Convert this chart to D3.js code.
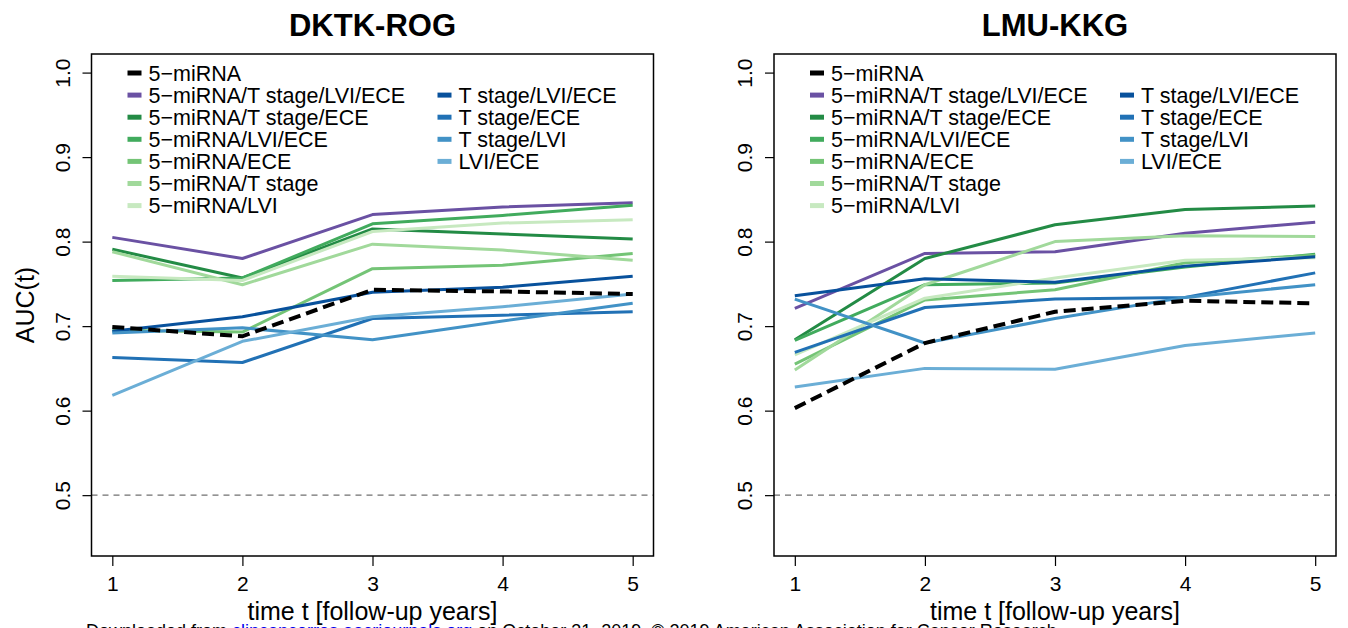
<!DOCTYPE html>
<html>
<head>
<meta charset="utf-8">
<script src="https://cdn.jsdelivr.net/npm/d3@7"></script>
<style>
  body { margin: 0; background: #fff; }
  svg { display: block; font-family: "Liberation Sans", Arial, Helvetica, sans-serif; }
</style>
</head>
<body>
<svg id="chart" width="1348" height="628"></svg>
<script>
// Data
const years = [1, 2, 3, 4, 5];
const yTicks = [0.5, 0.6, 0.7, 0.8, 0.9, 1.0];

const seriesNames = [
    '5\u2212miRNA',
    '5\u2212miRNA/T stage/LVI/ECE',
    '5\u2212miRNA/T stage/ECE',
    '5\u2212miRNA/LVI/ECE',
    '5\u2212miRNA/ECE',
    '5\u2212miRNA/T stage',
    '5\u2212miRNA/LVI',
    'T stage/LVI/ECE',
    'T stage/ECE',
    'T stage/LVI',
    'LVI/ECE'
];

const seriesColors = ['#000000', '#6a51a3', '#238b45', '#41ab5d', '#74c476', '#a1d99b',
    '#c7e9c0', '#08519c', '#2171b5', '#4292c6', '#6baed6'];

// AUC(t) per series, same order as seriesNames
const dktkAuc = [
    [0.699, 0.688, 0.743, 0.741, 0.738],
    [0.805, 0.780, 0.832, 0.841, 0.846],
    [0.791, 0.757, 0.815, 0.809, 0.803],
    [0.754, 0.757, 0.821, 0.831, 0.843],
    [0.695, 0.693, 0.768, 0.772, 0.786],
    [0.788, 0.749, 0.797, 0.790, 0.778],
    [0.759, 0.754, 0.812, 0.822, 0.826],
    [0.694, 0.711, 0.740, 0.746, 0.759],
    [0.663, 0.657, 0.709, 0.713, 0.717],
    [0.692, 0.698, 0.684, 0.706, 0.727],
    [0.618, 0.682, 0.711, 0.723, 0.738]
];

const lmuAuc = [
    [0.603, 0.680, 0.717, 0.730, 0.727],
    [0.721, 0.786, 0.788, 0.810, 0.823],
    [0.684, 0.780, 0.820, 0.838, 0.842],
    [0.683, 0.749, 0.751, 0.770, 0.785],
    [0.655, 0.731, 0.743, 0.775, 0.784],
    [0.648, 0.749, 0.800, 0.807, 0.806],
    [0.666, 0.733, 0.757, 0.778, 0.781],
    [0.736, 0.756, 0.752, 0.771, 0.782],
    [0.669, 0.722, 0.732, 0.734, 0.763],
    [0.732, 0.680, 0.709, 0.734, 0.749],
    [0.628, 0.650, 0.649, 0.677, 0.692]
];

const panelTitles = ['DKTK-ROG', 'LMU-KKG'];

const svg = d3.select('#chart');
const plotTop = 54, plotBottom = 556;

const panels = [
    { title: panelTitles[0], left: 91.5, right: 653.5, data: dktkAuc, yLabel: true },
    { title: panelTitles[1], left: 774, right: 1336, data: lmuAuc, yLabel: false }
];

// legend layout: column 1 holds the 5-miRNA models, column 2 the clinical ones
const legendCol = [0, 0, 0, 0, 0, 0, 0, 1, 1, 1, 1];
const legendRow = [0, 1, 2, 3, 4, 5, 6, 1, 2, 3, 4];

panels.forEach(p => {
    const x = d3.scaleLinear().domain([0.84, 5.16]).range([p.left, p.right]);
    const y = d3.scaleLinear().domain([0.428, 1.022]).range([plotBottom, plotTop]);
    const g = svg.append('g');

    // reference line at 0.5
    g.append('line')
        .attr('x1', p.left).attr('x2', p.right)
        .attr('y1', y(0.5)).attr('y2', y(0.5))
        .attr('stroke', '#707070')
        .attr('stroke-width', 1.4)
        .attr('stroke-dasharray', '6,5');

    // curves, black reference model on top
    const line = d3.line()
        .x((d, i) => x(years[i]))
        .y(d => y(d));

    for (let s = 1; s < p.data.length; s++) {
        g.append('path')
            .datum(p.data[s])
            .attr('fill', 'none')
            .attr('stroke', seriesColors[s])
            .attr('stroke-width', 3)
            .attr('stroke-linejoin', 'round')
            .attr('d', line);
    }
    g.append('path')
        .datum(p.data[0])
        .attr('fill', 'none')
        .attr('stroke', seriesColors[0])
        .attr('stroke-width', 4)
        .attr('stroke-dasharray', '12,6')
        .attr('d', line);

    // box
    g.append('rect')
        .attr('x', p.left).attr('y', plotTop)
        .attr('width', p.right - p.left).attr('height', plotBottom - plotTop)
        .attr('fill', 'none')
        .attr('stroke', '#000')
        .attr('stroke-width', 1.5);

    // y axis
    const yAxis = g.append('g')
        .attr('transform', `translate(${p.left},0)`)
        .call(d3.axisLeft(y).tickValues(yTicks).tickSize(9).tickFormat(d3.format('.1f')));
    yAxis.select('.domain').remove();
    yAxis.selectAll('line').attr('stroke', '#000').attr('stroke-width', 1.2);
    yAxis.selectAll('text')
        .attr('x', null).attr('dy', null)
        .attr('transform', 'translate(-29,0) rotate(-90)')
        .attr('text-anchor', 'middle')
        .attr('dy', '0.35em')
        .style('font-size', '21px')
        .attr('fill', '#000');

    // x axis
    const xAxis = g.append('g')
        .attr('transform', `translate(0,${plotBottom})`)
        .call(d3.axisBottom(x).tickValues(years).tickSize(10).tickFormat(d3.format('d')));
    xAxis.select('.domain').remove();
    xAxis.selectAll('line').attr('stroke', '#000').attr('stroke-width', 1.2);
    xAxis.selectAll('text')
        .attr('y', 28).attr('dy', '0.35em')
        .style('font-size', '21px')
        .attr('fill', '#000');
    yAxis.attr('font-family', null).attr('font-size', null);
    xAxis.attr('font-family', null).attr('font-size', null);

    // titles
    const cx = (p.left + p.right) / 2;
    g.append('text')
        .attr('x', cx).attr('y', 36)
        .attr('text-anchor', 'middle')
        .style('font-size', '31px')
        .style('font-weight', 'bold')
        .text(p.title);

    g.append('text')
        .attr('x', cx).attr('y', 620)
        .attr('text-anchor', 'middle')
        .style('font-size', '25px')
        .text('time t [follow-up years]');

    if (p.yLabel) {
        g.append('text')
            .attr('transform', `translate(25,${(plotTop + plotBottom) / 2}) rotate(-90)`)
            .attr('text-anchor', 'middle')
            .attr('dy', '0.35em')
            .style('font-size', '25px')
            .text('AUC(t)');
    }

    // legend
    const leg = g.append('g').attr('transform', `translate(${p.left},0)`);
    seriesNames.forEach((name, i) => {
        const lx = legendCol[i] === 0 ? 36 : 346;
        const ly = 73 + legendRow[i] * 22.1;
        leg.append('line')
            .attr('x1', lx).attr('x2', lx + 14)
            .attr('y1', ly).attr('y2', ly)
            .attr('stroke', seriesColors[i])
            .attr('stroke-width', 5);
        leg.append('text')
            .attr('x', lx + 21).attr('y', ly)
            .attr('dy', '0.35em')
            .style('font-size', '21.5px')
            .text(name);
    });
});

// source line, cut off at the bottom edge as in the reference
const src = svg.append('text')
    .attr('x', 86).attr('y', 637)
    .style('font-size', '18px');
src.append('tspan').text('Downloaded from ');
src.append('tspan').attr('fill', '#0000ee').text('clincancerres.aacrjournals.org');
src.append('tspan').text(' on October 31, 2019. \u00a9 2019 American Association for Cancer Research.');
</script>
</body>
</html>
